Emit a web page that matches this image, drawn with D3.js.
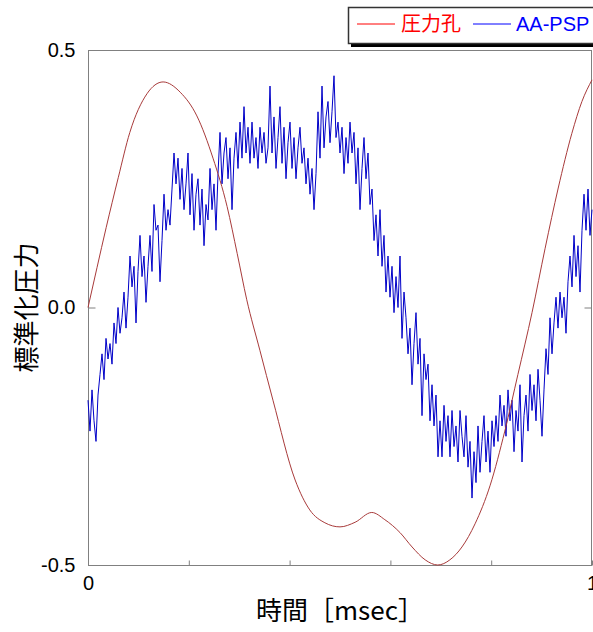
<!DOCTYPE html>
<html><head>
<meta charset="UTF-8">
<title>圧力孔 vs AA-PSP</title>
<script src="https://d3js.org/d3.v7.min.js"></script>
<style>
  body { margin: 0; background: white; }
  .tick text { font-family: "Liberation Sans", Arial, sans-serif; font-size: 20px; fill: #000; }
  .tick line { stroke: #808080; }
  .frame { fill: none; stroke: #808080; stroke-width: 1px; }
  .title { font-family: "Noto Sans CJK JP", "Liberation Sans", sans-serif; font-size: 26px; fill: #000; }
</style>
</head>
<body>
<script type="text/javascript">

// pressure tap curve (圧力孔): time [msec] and normalised pressure
var tapTime = [0, 0.018, 0.036, 0.060, 0.083, 0.117, 0.149, 0.183, 0.216, 0.248,
               0.276, 0.296, 0.315, 0.341, 0.367, 0.411, 0.440, 0.470, 0.500, 0.530,
               0.563, 0.589, 0.619, 0.643, 0.669, 0.694, 0.718, 0.742, 0.768, 0.798,
               0.827, 0.853, 0.881, 0.907, 0.933, 0.960, 0.980, 1.0];
var tapValue = [0.0, 0.078, 0.155, 0.252, 0.34, 0.415, 0.438, 0.418, 0.372, 0.29,
                0.196, 0.105, 0.015, -0.083, -0.18, -0.335, -0.393, -0.418, -0.426, -0.417,
                -0.398, -0.412, -0.437, -0.465, -0.49, -0.50, -0.49, -0.465, -0.42, -0.345,
                -0.24, -0.13, -0.01, 0.115, 0.232, 0.338, 0.40, 0.442];

// AA-PSP signal, evenly spaced samples from t=0 to t=1
var pspValue = [
  -0.18, -0.24, -0.16, -0.22, -0.26, -0.17, -0.13, -0.09, -0.14, -0.06, -0.10, -0.07,
  -0.11, -0.03, -0.07, 0.00, -0.05, -0.02, 0.03, -0.04, 0.02, 0.10, 0.04, 0.08,
  -0.03, 0.07, 0.14, 0.06, 0.10, 0.01, 0.08, 0.14, 0.07, 0.20, 0.15, 0.16,
  0.05, 0.13, 0.22, 0.15, 0.19, 0.16, 0.23, 0.30, 0.24, 0.29, 0.21, 0.27,
  0.19, 0.24, 0.30, 0.18, 0.26, 0.15, 0.22, 0.25, 0.16, 0.23, 0.12, 0.20,
  0.17, 0.27, 0.19, 0.24, 0.15, 0.26, 0.34, 0.24, 0.30, 0.33, 0.25, 0.31,
  0.19, 0.29, 0.34, 0.27, 0.36, 0.29, 0.39, 0.30, 0.35, 0.28, 0.36, 0.29,
  0.33, 0.27, 0.35, 0.30, 0.34, 0.28, 0.31, 0.43, 0.30, 0.37, 0.27, 0.33,
  0.39, 0.28, 0.35, 0.25, 0.32, 0.36, 0.27, 0.33, 0.25, 0.31, 0.35, 0.28,
  0.31, 0.24, 0.29, 0.22, 0.27, 0.19, 0.26, 0.38, 0.29, 0.43, 0.31, 0.37,
  0.40, 0.32, 0.38, 0.45, 0.33, 0.36, 0.30, 0.35, 0.26, 0.33, 0.28, 0.36,
  0.30, 0.34, 0.24, 0.31, 0.19, 0.27, 0.33, 0.25, 0.30, 0.20, 0.23, 0.13,
  0.18, 0.10, 0.19, 0.08, 0.14, 0.03, 0.10, 0.02, 0.08, -0.01, 0.06, 0.00,
  0.10, -0.06, 0.03, -0.02, -0.09, -0.04, -0.15, -0.07, -0.01, -0.11, -0.06, -0.21,
  -0.09, -0.14, -0.11, -0.22, -0.15, -0.23, -0.17, -0.29, -0.22, -0.29, -0.19, -0.26,
  -0.21, -0.29, -0.20, -0.27, -0.23, -0.30, -0.20, -0.25, -0.29, -0.21, -0.31, -0.26,
  -0.37, -0.28, -0.34, -0.23, -0.32, -0.26, -0.21, -0.30, -0.24, -0.32, -0.22, -0.27,
  -0.21, -0.26, -0.17, -0.23, -0.19, -0.25, -0.16, -0.22, -0.18, -0.28, -0.20, -0.24,
  -0.15, -0.30, -0.21, -0.17, -0.24, -0.13, -0.20, -0.15, -0.22, -0.12, -0.18, -0.25,
  -0.16, -0.08, -0.13, -0.02, -0.09, -0.03, 0.02, -0.04, 0.03, -0.02, 0.02, -0.05,
  0.05, 0.10, 0.04, 0.14, 0.06, 0.12, 0.03, 0.15, 0.22, 0.15, 0.23, 0.14,
  0.19];

var xTicks = [0, 0.2, 0.4, 0.6, 0.8, 1];
var yTicks = [-0.5, 0, 0.5];
var legendNames = ["圧力孔", "AA-PSP"];

var width = 593, height = 632;
var plot = {left: 88, right: 592, top: 50, bottom: 565};

var svg = d3.select("body").append("svg")
    .attr("width", width)
    .attr("height", height);

var x = d3.scaleLinear().domain([0, 1]).range([plot.left, plot.right]);
var y = d3.scaleLinear().domain([-0.5, 0.5]).range([plot.bottom, plot.top]);

// plain hyphen for negative numbers, like the original
var fmt = d3.formatLocale({decimal: ".", thousands: ",", grouping: [3], currency: ["", ""], minus: "-"});

// frame around the plot
svg.append("rect")
    .attr("class", "frame")
    .attr("x", plot.left + 0.5)
    .attr("y", plot.top + 0.5)
    .attr("width", plot.right - plot.left - 1)
    .attr("height", plot.bottom - plot.top);

// axes, ticks pointing inwards
var xAxis = d3.axisBottom(x)
    .tickValues(xTicks)
    .tickSizeInner(-5)
    .tickSizeOuter(0)
    .tickPadding(10)
    .tickFormat(function(d) { return (d === 0 || d === 1) ? fmt.format("d")(d) : ""; });

var yAxis = d3.axisLeft(y)
    .tickValues(yTicks)
    .tickSizeInner(-7)
    .tickSizeOuter(0)
    .tickPadding(13)
    .tickFormat(fmt.format(".1f"));

var gx = svg.append("g").attr("transform", "translate(0," + (plot.bottom + 0.5) + ")").call(xAxis);
var gy = svg.append("g").attr("transform", "translate(" + (plot.left + 0.5) + ",0)").call(yAxis);
var gr = svg.append("g").attr("transform", "translate(" + (plot.right - 0.5) + ",0)")
    .call(d3.axisRight(y).tickValues([0]).tickSizeInner(-7).tickSizeOuter(0).tickFormat(""));
gx.select(".domain").remove();
gy.select(".domain").remove();
gr.select(".domain").remove();

// data lines
var pspLine = d3.line()
    .x(function(d, i) { return x(i / (pspValue.length - 1)); })
    .y(function(d) { return y(d); });

svg.append("path")
    .datum(pspValue)
    .attr("fill", "none")
    .attr("stroke", "#0000c8")
    .attr("stroke-width", 1)
    .attr("d", pspLine);

var tapLine = d3.line()
    .curve(d3.curveMonotoneX)
    .x(function(d, i) { return x(tapTime[i]); })
    .y(function(d) { return y(d); });

svg.append("path")
    .datum(tapValue)
    .attr("fill", "none")
    .attr("stroke", "#a83a3a")
    .attr("stroke-width", 1)
    .attr("d", tapLine);

// axis titles
svg.append("text")
    .attr("class", "title")
    .attr("x", (plot.left + plot.right) / 2)
    .attr("y", 620)
    .attr("text-anchor", "middle")
    .text("時間［msec］");

svg.append("text")
    .attr("class", "title")
    .attr("transform", "translate(36," + ((plot.top + plot.bottom) / 2) + ") rotate(-90)")
    .attr("text-anchor", "middle")
    .text("標準化圧力");

// legend box with drop shadow
var legend = svg.append("g");
legend.append("rect")
    .attr("x", 351).attr("y", 10)
    .attr("width", 260).attr("height", 37)
    .attr("fill", "#000");
legend.append("rect")
    .attr("x", 348.5).attr("y", 7.5)
    .attr("width", 260).attr("height", 36)
    .attr("fill", "white")
    .attr("stroke", "#333")
    .attr("stroke-width", 1.5);

var legendColors = ["#ff0000", "#0000ff"];
var legendLineX = [357, 473];
var legendTextX = [401, 516];
legendNames.forEach(function(name, i) {
  legend.append("line")
      .attr("x1", legendLineX[i]).attr("x2", legendLineX[i] + 38)
      .attr("y1", 24).attr("y2", 24)
      .attr("stroke", legendColors[i])
      .attr("stroke-width", 1);
  legend.append("text")
      .attr("x", legendTextX[i]).attr("y", 31)
      .attr("fill", legendColors[i])
      .style("font-family", i === 0 ? "'Noto Sans CJK JP', sans-serif" : "'Liberation Sans', Arial, sans-serif")
      .style("font-size", "20px")
      .text(name);
});

</script>
</body>
</html>
